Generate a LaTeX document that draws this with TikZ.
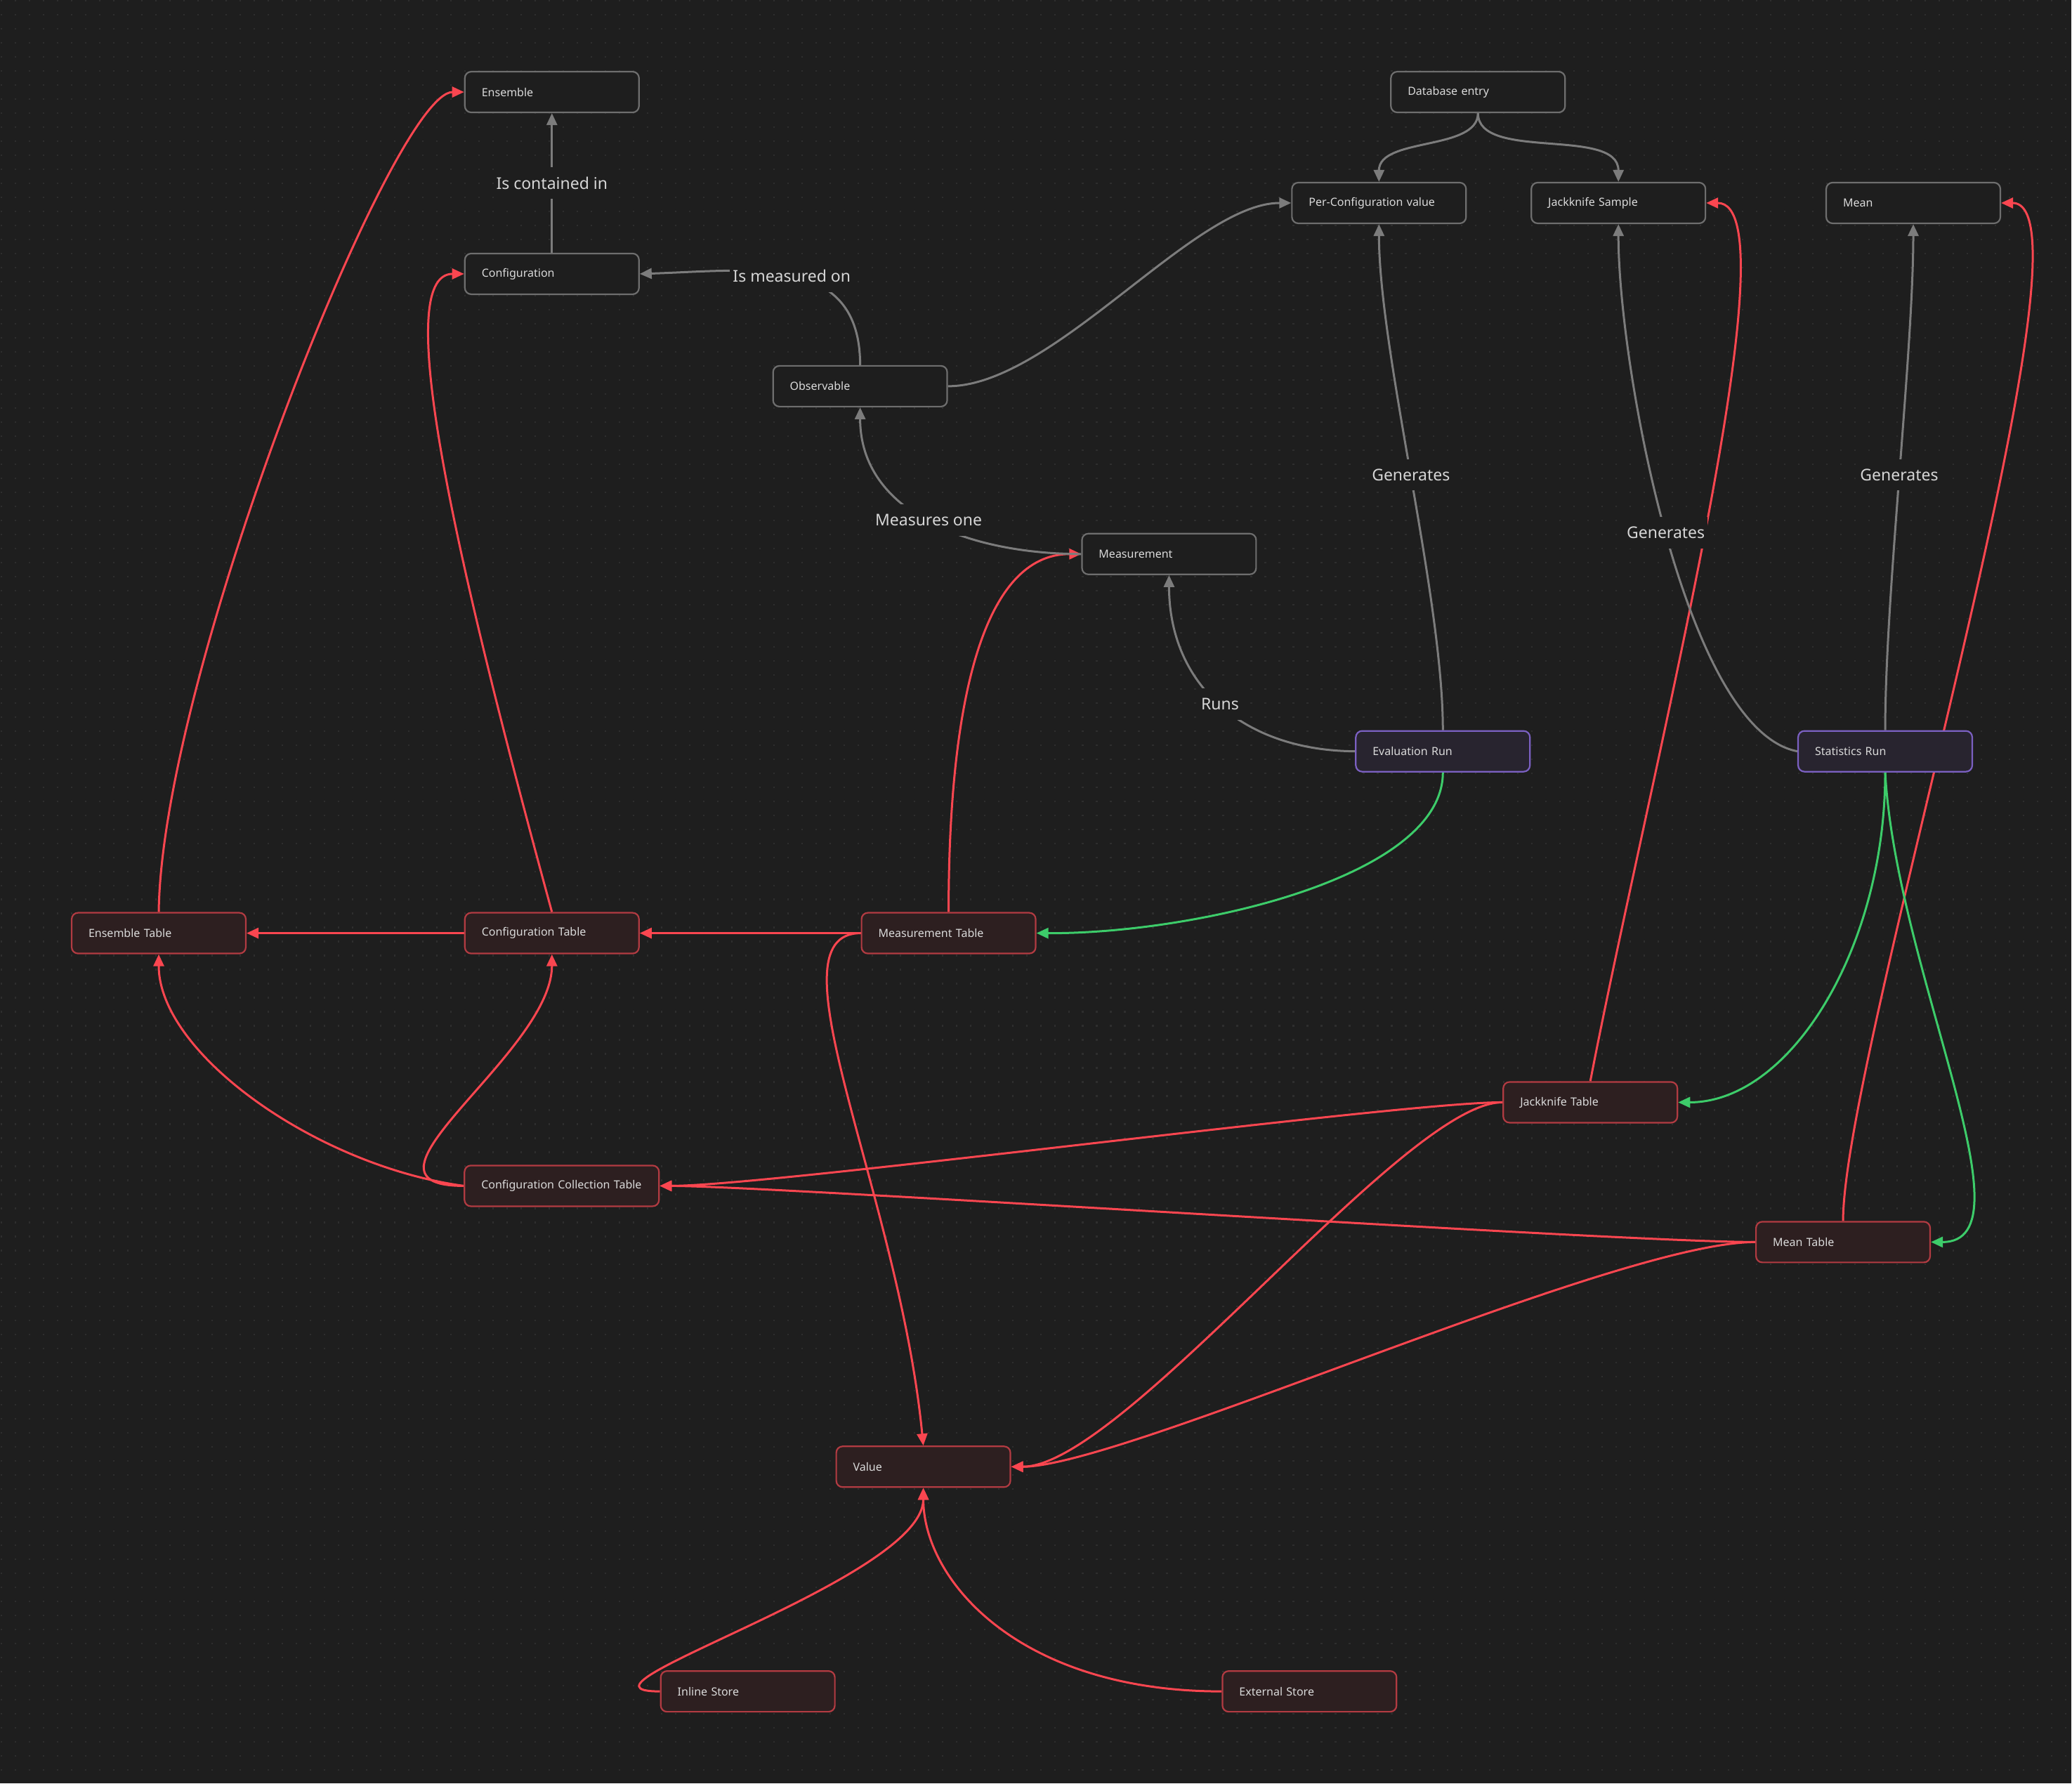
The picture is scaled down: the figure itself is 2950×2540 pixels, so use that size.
\documentclass[tikz,border=0pt]{standalone}
\usepackage{fontspec}
\setmainfont{Noto Sans}
\usetikzlibrary{arrows.meta}
\definecolor{bgc}{HTML}{1E1E1E}
\definecolor{dotc}{HTML}{2E2E2E}
\definecolor{gborder}{HTML}{6E6E6E}
\definecolor{gedgec}{HTML}{7C7C7C}
\definecolor{ntext}{HTML}{DADADA}
\definecolor{ltext}{HTML}{D6D6D6}
\definecolor{redc}{HTML}{FA4650}
\definecolor{rborder}{HTML}{B23B42}
\definecolor{rfill}{HTML}{2D1F20}
\definecolor{pborder}{HTML}{7B60C2}
\definecolor{pfill}{HTML}{28242F}
\definecolor{greenc}{HTML}{3DCC6A}
\pgfdeclarelayer{bglayer}
\pgfdeclarelayer{edgelayer}
\pgfsetlayers{bglayer,edgelayer,main}
\begin{document}
\begin{tikzpicture}[x=1pt,y=-1pt,
  box/.style={draw=gborder, line width=2.2pt, rounded corners=9pt, fill=bgc, text=ntext,
    text width=200pt, align=left, inner xsep=24pt, inner ysep=0pt, minimum height=58pt,
    font=\fontsize{16}{19}\selectfont},
  widebox/.style={text width=229pt},
  redbox/.style={box, draw=rborder, fill=rfill},
  purbox/.style={box, draw=pborder, fill=pfill},
  tip/.style={-{Triangle[length=17pt,width=15pt]}},
  gedge/.style={draw=gedgec, line width=3pt, tip},
  redge/.style={draw=redc, line width=3pt, tip},
  grnedge/.style={draw=greenc, line width=3pt, tip},
  lbl/.style={fill=bgc, text=ltext, inner xsep=4pt, inner ysep=14pt,
    font=\fontsize{23}{27}\selectfont}]

\begin{pgfonlayer}{bglayer}
\fill[bgc] (0,0) rectangle (2950,2540);
\foreach \yy in {1,21,...,2540}
  \draw[dotc, line width=2.2pt, dash pattern=on 2.2pt off 17.8pt] (1,\yy) -- (2950,\yy);
\end{pgfonlayer}
\useasboundingbox (0,0) rectangle (2950,2540);

% grey entities
\node[box] (ens) at (786,131) {Ensemble};
\node[box] (cfg) at (786,390) {Configuration};
\node[box] (obs) at (1225,550) {Observable};
\node[box] (meas) at (1665,789) {Measurement};
\node[box] (db) at (2105,131) {Database entry};
\node[box] (pcv) at (1964,289) {Per-Configuration value};
\node[box] (jks) at (2305,289) {Jackknife Sample};
\node[box] (mean) at (2725,289) {Mean};
% runs
\node[purbox] (eval) at (2055,1070) {Evaluation Run};
\node[purbox] (stat) at (2685,1070) {Statistics Run};
% tables
\node[redbox] (enst) at (226,1329) {Ensemble Table};
\node[redbox] (cfgt) at (786,1329) {Configuration Table};
\node[redbox] (meast) at (1351,1329) {Measurement Table};
\node[redbox] (jkt) at (2265,1570) {Jackknife Table};
\node[redbox,widebox] (cct) at (800,1689) {Configuration Collection Table};
\node[redbox] (meant) at (2625,1769) {Mean Table};
\node[redbox] (val) at (1315,2089) {Value};
\node[redbox] (inl) at (1065,2409) {Inline Store};
\node[redbox] (ext) at (1865,2409) {External Store};

\begin{pgfonlayer}{edgelayer}
% red edges
\draw[redge] (enst.north) .. controls (230,960) and (560,131) .. (ens.west);
\draw[redge] (cfgt.north) .. controls (650,800) and (555,390) .. (cfg.west);
\draw[redge] (cfgt.west) -- (enst.east);
\draw[redge] (meast.west) -- (cfgt.east);
\draw[redge] (meast.north) .. controls (1351,1000) and (1400,789) .. (meas.west);
\draw[redge] (meast.west) .. controls (1090,1329) and (1280,1700) .. (val.north);
\draw[redge] (cct.west) .. controls (450,1660) and (226,1500) .. (enst.south);
\draw[redge] (cct.west) .. controls (480,1689) and (786,1500) .. (cfgt.south);
\draw[redge] (jkt.north) .. controls (2350,1100) and (2560,289) .. (jks.east);
\draw[redge] (jkt.west) .. controls (2000,1569) and (1100,1689) .. (cct.east);
\draw[redge] (jkt.west) .. controls (2000,1569) and (1600,2089) .. (val.east);
\draw[redge] (meant.north) .. controls (2625,1500) and (3000,289) .. (mean.east);
\draw[redge] (meant.west) .. controls (2300,1769) and (1100,1689) .. (cct.east);
\draw[redge] (meant.west) .. controls (2300,1769) and (1600,2089) .. (val.east);
\draw[redge] (inl.west) .. controls (780,2409) and (1315,2250) .. (val.south);
\draw[redge] (ext.west) .. controls (1450,2409) and (1315,2250) .. (val.south);
% green edges
\draw[grnedge] (eval.south) .. controls (2055,1250) and (1700,1330) .. (meast.east);
\draw[grnedge] (stat.south) .. controls (2685,1350) and (2550,1570) .. (jkt.east);
\draw[grnedge] (stat.south) .. controls (2700,1380) and (2900,1769) .. (meant.east);
% grey edges
\draw[gedge] (db.south) .. controls (2105,215) and (1964,195) .. (pcv.north);
\draw[gedge] (db.south) .. controls (2105,230) and (2305,180) .. (jks.north);
\draw[gedge] (obs.east) .. controls (1500,550) and (1700,289) .. (pcv.west);
\draw[gedge] (cfg.north) -- node[lbl] {Is contained in} (ens.south);
\draw[gedge] (obs.north) .. controls (1225,360) and (1070,385) .. node[lbl, pos=0.5] {Is measured on} (cfg.east);
\draw[gedge] (meas.west) .. controls (1380,789) and (1225,730) .. node[lbl, pos=0.5] {Measures one} (obs.south);
\draw[gedge] (eval.north) .. controls (2055,850) and (1964,500) .. node[lbl, pos=0.5] {Generates} (pcv.south);
\draw[gedge] (stat.west) .. controls (2400,1040) and (2305,520) .. node[lbl, pos=0.5] {Generates} (jks.south);
\draw[gedge] (stat.north) .. controls (2685,850) and (2725,500) .. node[lbl, pos=0.5] {Generates} (mean.south);
\draw[gedge] (eval.west) .. controls (1770,1069) and (1665,975) .. node[lbl, pos=0.5] {Runs} (meas.south);
\end{pgfonlayer}
\end{tikzpicture}
\end{document}
